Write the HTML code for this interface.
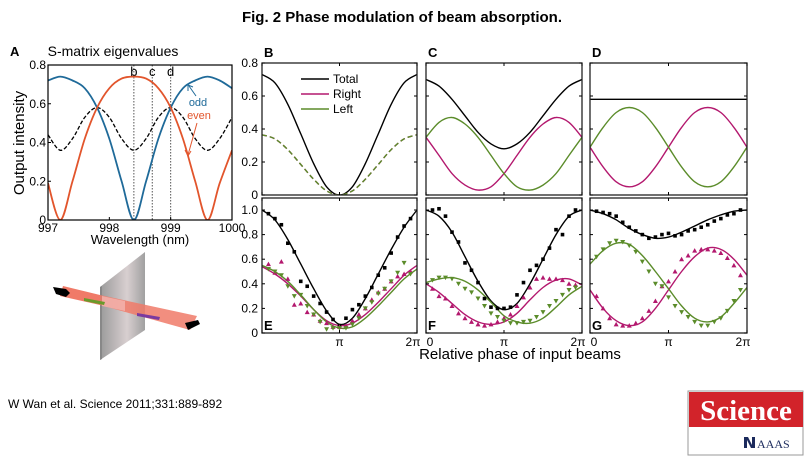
<!DOCTYPE html>
<html><head><meta charset="utf-8"><style>
body{margin:0;background:#fff;width:804px;height:457px;overflow:hidden;font-family:"Liberation Sans",sans-serif}
svg{position:absolute;left:0;top:0}
</style></head><body>
<svg id="fig" width="804" height="457" viewBox="0 0 804 457" font-family="Liberation Sans, DejaVu Sans, sans-serif">
<defs>
<linearGradient id="slabG" x1="0" y1="0" x2="1" y2="0"><stop offset="0" stop-color="#9a9a9a"/><stop offset="0.6" stop-color="#d8cfd0"/><stop offset="1" stop-color="#a0a0a0"/></linearGradient>
</defs>
<text x="402" y="22" text-anchor="middle" font-weight="bold" font-size="15">Fig. 2 Phase modulation of beam absorption.</text>
<text x="8" y="408" font-size="12">W Wan et al. Science 2011;331:889-892</text>
<g>
<rect x="688" y="391" width="115" height="64" fill="#fff" stroke="#999" stroke-width="1"/>
<rect x="689" y="392" width="114" height="35" fill="#d2232a"/>
<text x="746" y="420" text-anchor="middle" fill="#fff" font-family="Liberation Serif, serif" font-weight="bold" font-size="29">Science</text>
<path d="M744 437 L748 437 L752 445 L752 437 L755 437 L755 448 L751 448 L747 440 L747 448 L744 448Z" fill="#1b2a5c"/>
<text x="757" y="448" fill="#1b2a5c" font-family="Liberation Serif, serif" font-size="12">AAAS</text>
</g>
<g id="panelA"></g>
<g id="illus">
<polygon points="63,286 100,295 100,305 60,296" fill="#f07a68"/>
<polygon points="100,287 145,252 145,330 100,360" fill="url(#slabG)"/>
<polygon points="100,287 102,286 102,359 100,360" fill="#888"/>
<polygon points="100,295 197,316 190,330 100,305" fill="#f07a68" opacity="0.85"/>
<polygon points="102,296 125,301 125,311 102,306" fill="#f4b5b0" opacity="0.8"/>
<polygon points="84,298 105,302 104,305 84,301" fill="#6a9a2a"/>
<polygon points="137,313 160,317 159,320 137,316" fill="#7a3aa0"/>
<polygon points="53,287 66,289 70,293 66,297 56,294" fill="#000"/>
<polygon points="185,323 198,320 200,324 188,330" fill="#000"/>
</g>
<g id="panels"></g>
<text x="520" y="359" text-anchor="middle" font-size="15">Relative phase of input beams</text>
</svg>
<script>
// ---- Panel A data (wavelength nm, 0.2 nm steps) ----
const aWavelengths=[997,997.2,997.4,997.6,997.8,998,998.2,998.4,998.6,998.8,999,999.2,999.4,999.6,999.8,1000];
const aOdd=[0.72,0.74,0.72,0.68,0.58,0.42,0.2,0.0,0.2,0.42,0.58,0.68,0.72,0.74,0.72,0.68];
const aEven=[0.19,0.0,0.2,0.42,0.58,0.68,0.73,0.74,0.73,0.68,0.58,0.42,0.2,0.0,0.19,0.36];
const aDashed=[0.44,0.36,0.42,0.53,0.58,0.53,0.42,0.36,0.42,0.53,0.58,0.53,0.42,0.36,0.42,0.53];
const aXTicks=[997,998,999,1000];
const aYTicks=[0,0.2,0.4,0.6,0.8];
const aMarkers=[["b",998.4],["c",998.7],["d",999.0]];
// ---- Model curves (phase = k*pi/6, k=0..12) ----
const modelPhase=[0,1/6,2/6,3/6,4/6,5/6,1,7/6,8/6,9/6,10/6,11/6,2];
const bTotal=[0.73,0.68,0.55,0.37,0.19,0.05,0,0.05,0.19,0.37,0.55,0.68,0.73];
const bHalf=[0.365,0.34,0.275,0.185,0.095,0.025,0,0.025,0.095,0.185,0.275,0.34,0.365];
const cTotal=[0.70,0.66,0.58,0.48,0.38,0.31,0.28,0.31,0.38,0.48,0.58,0.66,0.70];
const cRight=[0.35,0.24,0.13,0.06,0.03,0.05,0.13,0.24,0.35,0.43,0.47,0.44,0.35];
const cLeft=[0.35,0.44,0.47,0.43,0.35,0.24,0.13,0.05,0.03,0.06,0.13,0.24,0.35];
const dTotal=[0.58,0.58,0.58,0.58,0.58,0.58,0.58,0.58,0.58,0.58,0.58,0.58,0.58];
const dLeft=[0.29,0.41,0.50,0.53,0.50,0.41,0.29,0.17,0.08,0.05,0.08,0.17,0.29];
const dRight=[0.29,0.17,0.08,0.05,0.08,0.17,0.29,0.41,0.50,0.53,0.50,0.41,0.29];
const eTotalFit=[1.0,0.92,0.76,0.56,0.36,0.18,0.07,0.12,0.28,0.48,0.68,0.86,1.0];
const eRightFit=[0.54,0.48,0.40,0.30,0.19,0.10,0.06,0.08,0.15,0.25,0.36,0.47,0.55];
const eLeftFit=[0.55,0.50,0.42,0.31,0.19,0.09,0.04,0.05,0.12,0.22,0.33,0.44,0.52];
const fTotalFit=[1.0,0.95,0.82,0.62,0.42,0.26,0.19,0.24,0.40,0.60,0.80,0.95,1.0];
const fRightFit=[0.40,0.33,0.24,0.15,0.09,0.07,0.09,0.16,0.27,0.37,0.43,0.44,0.39];
const fLeftFit=[0.41,0.44,0.45,0.42,0.35,0.25,0.14,0.09,0.08,0.12,0.21,0.31,0.38];
const gTotalFit=[1.0,0.97,0.92,0.85,0.80,0.77,0.78,0.82,0.87,0.92,0.96,0.99,1.0];
const gLeftFit=[0.56,0.67,0.73,0.72,0.63,0.50,0.36,0.22,0.12,0.09,0.13,0.24,0.37];
const gRightFit=[0.35,0.20,0.10,0.06,0.09,0.20,0.35,0.50,0.62,0.69,0.68,0.60,0.47];
// ---- Measured points (phase = k*pi/12, k=1..23) ----
const dataPhase=[1,2,3,4,5,6,7,8,9,10,11,12,13,14,15,16,17,18,19,20,21,22,23].map(k=>k/12);
const eTotalPts=[.97,.93,.88,.73,.66,.42,.38,.30,.24,.17,.11,.06,.12,.19,.23,.30,.37,.47,.53,.65,.78,.87,.93];
const eRightPts=[.56,.49,.58,.44,.23,.24,.17,.15,.10,.08,.05,.05,.06,.10,.15,.20,.27,.33,.36,.42,.46,.48,.50];
const eLeftPts=[.52,.50,.47,.38,.30,.31,.22,.15,.09,.03,.04,.04,.04,.07,.12,.20,.25,.32,.36,.42,.49,.57,.48];
const fTotalPts=[1.0,1.01,.95,.82,.74,.57,.51,.41,.28,.21,.2,.2,.21,.31,.41,.51,.55,.6,.69,.84,.80,.95,1.0];
const fRightPts=[.36,.30,.28,.22,.16,.12,.09,.07,.06,.07,.09,.12,.15,.22,.29,.37,.44,.45,.44,.44,.43,.40,.39];
const fLeftPts=[.43,.45,.45,.44,.40,.36,.33,.28,.22,.16,.13,.10,.08,.08,.09,.10,.13,.17,.22,.26,.31,.35,.37];
const gTotalPts=[.99,.98,.97,.95,.90,.86,.83,.80,.77,.78,.80,.81,.79,.80,.83,.84,.86,.88,.91,.93,.96,.97,1.0];
const gRightPts=[.30,.20,.12,.07,.06,.06,.08,.12,.18,.26,.38,.42,.50,.60,.63,.67,.68,.68,.67,.65,.61,.55,.47];
const gLeftPts=[.62,.68,.73,.75,.74,.71,.66,.58,.50,.40,.38,.29,.22,.17,.13,.09,.06,.06,.09,.12,.18,.26,.35];
const topYTicks=[0,0.2,0.4,0.6,0.8];
const topYLabels=["0","0.2","0.4","0.6","0.8"];
const botYTicks=[0,0.2,0.4,0.6,0.8,1.0];
const botYLabels=["0","0.2","0.4","0.6","0.8","1.0"];

const NS="http://www.w3.org/2000/svg";
const BLACK="#000",MAG="#b3186e",GRN="#5b8c2a",BLUE="#1f6a99",RED="#e2552c";
function mk(tag,attrs,parent){const e=document.createElementNS(NS,tag);for(const k in attrs)e.setAttribute(k,attrs[k]);parent.appendChild(e);return e;}
function spline(pts){let d="M"+pts[0][0].toFixed(1)+","+pts[0][1].toFixed(1);
 for(let i=0;i<pts.length-1;i++){const p0=pts[Math.max(0,i-1)],p1=pts[i],p2=pts[i+1],p3=pts[Math.min(pts.length-1,i+2)];
  const c1=[p1[0]+(p2[0]-p0[0])/6,p1[1]+(p2[1]-p0[1])/6],c2=[p2[0]-(p3[0]-p1[0])/6,p2[1]-(p3[1]-p1[1])/6];
  d+="C"+c1.map(v=>v.toFixed(1))+" "+c2.map(v=>v.toFixed(1))+" "+p2.map(v=>v.toFixed(1));}
 return d;}

// ---- Panel A ----
(function(){
 const g=document.getElementById('panelA');
 const x0=48,x1=232,yb=220,yt=65;
 const X=v=>x0+(v-997)/3*(x1-x0), Y=v=>yb-v/0.8*(yb-yt);
 const clip=mk('clipPath',{id:'clipA'},g);mk('rect',{x:x0,y:yt,width:x1-x0,height:yb-yt},clip);
 aMarkers.forEach(m=>{
  const l=mk('line',{x1:X(m[1]),x2:X(m[1]),y1:yt,y2:yb,stroke:'#555','stroke-dasharray':'1.5,1.5','stroke-width':1},g);
  
  const t=mk('text',{x:X(m[1]),y:yt+11,'text-anchor':'middle','font-size':13},g);t.textContent=m[0];
  
 });
 const series=[[aDashed,BLACK,'4,2','dashed-average',1.3],[aOdd,BLUE,null,'odd-eigenvalue-curve',1.8],[aEven,RED,null,'even-eigenvalue-curve',1.8]];
 series.forEach(s=>{const p=mk('path',{d:spline(aWavelengths.map((w,i)=>[X(w),Y(s[0][i])])),fill:'none',stroke:s[1],'stroke-width':s[4],'clip-path':'url(#clipA)'},g);
  if(s[2])p.setAttribute('stroke-dasharray',s[2]);
  });
 const b=mk('rect',{x:x0,y:yt,width:x1-x0,height:yb-yt,fill:'none',stroke:'#000','stroke-width':1.2},g);
 
 aXTicks.forEach(v=>{mk('line',{x1:X(v),x2:X(v),y1:yb,y2:yb-3,stroke:'#000'},g);
  const t=mk('text',{x:X(v),y:yb+12,'text-anchor':'middle','font-size':12},g);t.textContent=v;
  });
 aYTicks.forEach(v=>{mk('line',{x1:x0,x2:x0+3,y1:Y(v),y2:Y(v),stroke:'#000'},g);
  const t=mk('text',{x:x0-2,y:Y(v)+4,'text-anchor':'end','font-size':12},g);t.textContent=v===0?'0':v.toFixed(1);
  });
 const add=(txt,attrs,name)=>{const t=mk('text',attrs,g);t.textContent=txt;};
 add('A',{x:10,y:56,'font-weight':'bold','font-size':13},'panel-a-letter');
 add('S-matrix eigenvalues',{x:113,y:56,'text-anchor':'middle','font-size':14},'panel-a-title');
 add('Wavelength (nm)',{x:140,y:244,'text-anchor':'middle','font-size':13},'a-x-axis-title');
 add('Output intensity',{x:24,y:143,'text-anchor':'middle','font-size':15,transform:'rotate(-90 24 143)'},'a-y-axis-title');
 add('odd',{x:198,y:106,'text-anchor':'middle','font-size':11,fill:BLUE},'odd-label');
 add('even',{x:199,y:119,'text-anchor':'middle','font-size':11,fill:RED},'even-label');
 mk('path',{d:'M196,96 L189,86',stroke:BLUE,fill:'none'},g);mk('path',{d:'M188,91 L188,85 L193,87',stroke:BLUE,fill:'none'},g);
 mk('path',{d:'M197,123 L188,155',stroke:RED,fill:'none'},g);mk('path',{d:'M185,150 L188,156 L191,151',stroke:RED,fill:'none'},g);
})();

// ---- Phase panels ----
const panels=[
 {id:'b',letter:'B',x0:262,x1:417,y0:63,y1:195,top:true,fits:[[bTotal,BLACK,null,'total'],[bHalf,MAG,'5,3','right'],[bHalf,GRN,'5,3','left']],yLabels:true},
 {id:'c',letter:'C',x0:426,x1:582,y0:63,y1:195,top:true,fits:[[cTotal,BLACK,null,'total'],[cRight,MAG,null,'right'],[cLeft,GRN,null,'left']]},
 {id:'d',letter:'D',x0:590,x1:747,y0:63,y1:195,top:true,fits:[[dTotal,BLACK,null,'total'],[dRight,MAG,null,'right'],[dLeft,GRN,null,'left']]},
 {id:'e',letter:'E',x0:262,x1:417,y0:198,y1:333,top:false,fits:[[eTotalFit,BLACK,null,'total'],[eRightFit,MAG,null,'right'],[eLeftFit,GRN,null,'left']],
  pts:[[eTotalPts,BLACK,'sq','total'],[eRightPts,MAG,'up','right'],[eLeftPts,GRN,'down','left']],yLabels:true,xl:['','π','2π']},
 {id:'f',letter:'F',x0:426,x1:582,y0:198,y1:333,top:false,fits:[[fTotalFit,BLACK,null,'total'],[fRightFit,MAG,null,'right'],[fLeftFit,GRN,null,'left']],
  pts:[[fTotalPts,BLACK,'sq','total'],[fRightPts,MAG,'up','right'],[fLeftPts,GRN,'down','left']],xl:['0','π','2π']},
 {id:'g',letter:'G',x0:590,x1:747,y0:198,y1:333,top:false,fits:[[gTotalFit,BLACK,null,'total'],[gRightFit,MAG,null,'right'],[gLeftFit,GRN,null,'left']],
  pts:[[gTotalPts,BLACK,'sq','total'],[gRightPts,MAG,'up','right'],[gLeftPts,GRN,'down','left']],xl:['0','π','2π']}
];
const root=document.getElementById('panels');
panels.forEach(P=>{
 const g=mk('g',{},root);
 const X=v=>P.x0+v/2*(P.x1-P.x0);
 const Y=P.top?(v=>195-v/0.8*132):(v=>333-v*123);
 const clip=mk('clipPath',{id:'clip'+P.id},g);mk('rect',{x:P.x0,y:P.y0,width:P.x1-P.x0,height:P.y1-P.y0},clip);
 P.fits.forEach(s=>{const p=mk('path',{d:spline(modelPhase.map((ph,i)=>[X(ph),Y(s[0][i])])),fill:'none',stroke:s[1],'stroke-width':1.4,'clip-path':'url(#clip'+P.id+')'},g);
  if(s[2])p.setAttribute('stroke-dasharray',s[2]);
  });
 (P.pts||[]).forEach(s=>{dataPhase.forEach((ph,i)=>{const x=X(ph),y=Y(s[0][i]);let m;
  if(s[2]==='sq')m=mk('rect',{x:x-1.8,y:y-1.8,width:3.6,height:3.6,fill:s[1]},g);
  else if(s[2]==='up')m=mk('polygon',{points:`${x},${y-2.5} ${x-2.5},${y+2} ${x+2.5},${y+2}`,fill:s[1]},g);
  else m=mk('polygon',{points:`${x},${y+2.5} ${x-2.5},${y-2} ${x+2.5},${y-2}`,fill:s[1]},g);
  });});
 const fr=mk('rect',{x:P.x0,y:P.y0,width:P.x1-P.x0,height:P.y1-P.y0,fill:'none',stroke:'#222','stroke-width':1.3},g);
 
 const yt=P.top?topYTicks:botYTicks, yl=P.top?topYLabels:botYLabels;
 yt.forEach((v,i)=>{mk('line',{x1:P.x0,x2:P.x0+3,y1:Y(v),y2:Y(v),stroke:'#000'},g);mk('line',{x1:P.x1,x2:P.x1-3,y1:Y(v),y2:Y(v),stroke:'#000'},g);
  if(P.yLabels){const t=mk('text',{x:P.x0-4,y:Y(v)+4,'text-anchor':'end','font-size':12},g);t.textContent=yl[i];
   }});
 [0,1,2].forEach(v=>{mk('line',{x1:X(v),x2:X(v),y1:P.y1,y2:P.y1-3,stroke:'#000'},g);mk('line',{x1:X(v),x2:X(v),y1:P.y0,y2:P.y0+3,stroke:'#000'},g);
  if(P.xl&&P.xl[v]){const t=mk('text',{x:X(v)+(v===0?4:v===2?-4:0),y:P.y1+13,'text-anchor':'middle','font-size':12},g);t.textContent=P.xl[v];
   }});
 const lt=mk('text',{x:P.x0+2,y:P.top?P.y0-6:P.y1-3,'font-weight':'bold','font-size':13},g);lt.textContent=P.letter;
 
});
// Legend in panel B
const leg=mk('g',{},root);


[['Total',BLACK,79],['Right',MAG,94],['Left',GRN,109]].forEach(e=>{
 const li=mk('line',{x1:301,x2:329,y1:e[2],y2:e[2],stroke:e[1],'stroke-width':1.4},leg);
 
 const t=mk('text',{x:333,y:e[2]+4,'font-size':12},leg);t.textContent=e[0];
 
});
</script>
</body></html>
